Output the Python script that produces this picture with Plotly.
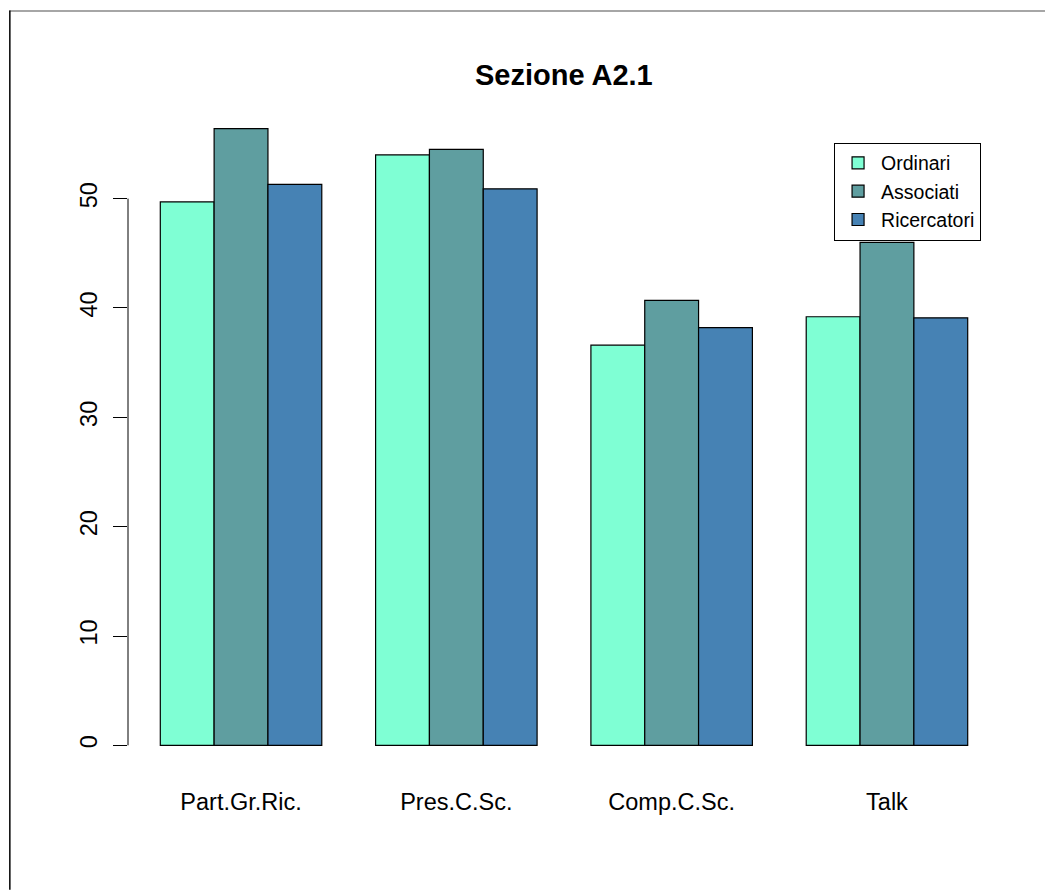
import plotly.graph_objects as go

categories = ["Part.Gr.Ric.", "Pres.C.Sc.", "Comp.C.Sc.", "Talk"]
series_names = ["Ordinari", "Associati", "Ricercatori"]
ordinari = [49.7, 54.0, 36.6, 39.2]
associati = [56.4, 54.5, 40.7, 46.0]
ricercatori = [51.3, 50.9, 38.2, 39.1]
y_ticks = [0, 10, 20, 30, 40, 50]
title_text = "Sezione A2.1"

colors = ["#7FFFD4", "#5F9EA0", "#4682B4"]
values = [ordinari, associati, ricercatori]

W, H = 1045, 890
L, R, T, B = 127.7, 45, 104.4, 119.8
pw, ph = W - L - R, H - T - B

fig = go.Figure()
for name, vals, col in zip(series_names, values, colors):
    fig.add_trace(go.Bar(
        x=categories, y=vals, name=name,
        marker=dict(color=col, line=dict(color="black", width=1.2)),
    ))

ymax = max(max(v) for v in values)
ext = 0.04 * ymax

font = "Liberation Sans, Arial, sans-serif"

fig.update_layout(
    width=W, height=H,
    margin=dict(l=L, r=R, t=T, b=B, pad=0),
    paper_bgcolor="white", plot_bgcolor="white",
    barmode="group", bargap=0.25, bargroupgap=0,
    title=dict(text="<b>" + title_text + "</b>", x=(L + pw / 2) / W, xanchor="center",
               y=1 - 75 / H, yanchor="middle",
               font=dict(family=font, size=29, color="black")),
    font=dict(family=font, color="black"),
    showlegend=True,
    legend=dict(x=(834 - L) / pw, y=(H - B - 143) / ph, xanchor="left", yanchor="top",
                bordercolor="black", borderwidth=1, bgcolor="white",
                font=dict(family=font, size=19.5, color="black"),
                itemwidth=36, traceorder="normal", tracegroupgap=0),
    xaxis=dict(range=[-0.525, 3.525], showline=False, showgrid=False, zeroline=False,
               ticks="outside", ticklen=11, tickcolor="rgba(0,0,0,0)",
               tickfont=dict(family=font, size=23.5, color="black")),
    yaxis=dict(range=[-ext, ymax + ext], tickvals=y_ticks, ticktext=[str(v) for v in y_ticks],
               showline=False, showgrid=False, zeroline=False,
               ticks="outside", ticklen=14, tickcolor="black", tickwidth=1,
               ticklabelstandoff=7,
               tickangle=-90, tickfont=dict(family=font, size=23.5, color="black")),
)

# y axis line spanning the tick range (like base R axis)
fig.add_shape(type="line", xref="paper", yref="y", x0=0, x1=0,
              y0=min(y_ticks), y1=max(y_ticks), line=dict(color="black", width=1))

# outer frame (top gray, left black)
def px_x(p):
    return (p - L) / pw

def px_y(p):
    return (H - B - p) / ph

fig.add_shape(type="line", xref="paper", yref="paper", x0=px_x(9), x1=px_x(W),
              y0=px_y(11.5), y1=px_y(11.5), line=dict(color="#888888", width=1.5))
fig.add_shape(type="line", xref="paper", yref="paper", x0=px_x(9.5), x1=px_x(9.5),
              y0=px_y(11), y1=px_y(H), line=dict(color="black", width=1.5))

fig.write_html("out.html", config={"displayModeBar": False},
               post_script="document.body.style.margin='0';")
